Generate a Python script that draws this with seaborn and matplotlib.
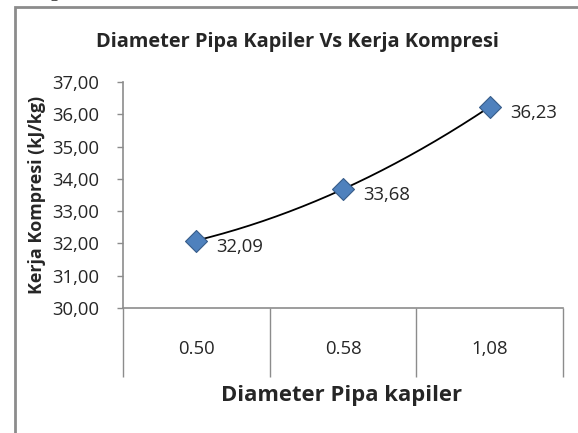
import matplotlib
matplotlib.use("Agg")
import matplotlib.pyplot as plt
import numpy as np
import pandas as pd
import seaborn as sns
from matplotlib.patches import Rectangle

# ---------- data ----------
diameter_labels = ["0.50", "0.58", "1,08"]
kerja_kompresi = [32.09, 33.68, 36.23]
value_labels = ["32,09", "33,68", "36,23"]

df = pd.DataFrame({"pos": np.arange(1, len(diameter_labels) + 1),
                   "kerja": kerja_kompresi})

sns.set_style("white")
plt.rcParams["font.family"] = ["Open Sans", "DejaVu Sans"]

fig = plt.figure(figsize=(5.78, 4.33), dpi=100)
ax = fig.add_axes([123 / 578, 1 - 308 / 433, 440 / 578, 226 / 433])

# 2nd-order trend line through the category positions
coef = np.polyfit(df["pos"], df["kerja"], 2)
xs = np.linspace(df["pos"].min(), df["pos"].max(), 200)
ax.plot(xs, np.polyval(coef, xs), color="black", lw=1.3, zorder=2)

sns.scatterplot(data=df, x="pos", y="kerja", ax=ax, marker="D", s=125,
                color="#4F81BD", edgecolor="#385D8A", linewidth=0.8,
                zorder=3, legend=False)

for x, y, lab in zip(df["pos"], df["kerja"], value_labels):
    ax.annotate(lab, (x, y), xytext=(14.5, -4.5), textcoords="offset points",
                fontsize=13.3, va="center", ha="left")

ax.set_xlim(0.5, 3.5)
ax.set_ylim(30, 37)
ax.set_yticks(np.arange(30, 38, 1))
ax.set_yticklabels([f"{v:.2f}".replace(".", ",") for v in np.arange(30, 38, 1)],
                   fontsize=13.3)

# category boundaries as long ticks, labels on minor ticks at centres
ax.set_xticks([0.5, 1.5, 2.5, 3.5])
ax.set_xticklabels([])
ax.set_xticks(df["pos"], minor=True)
ax.set_xticklabels(diameter_labels, minor=True, fontsize=13.3)
ax.tick_params(axis="x", which="major", bottom=True, length=50, width=1,
               color="#8c8c8c", direction="out")
ax.tick_params(axis="x", which="minor", bottom=True, length=0, pad=23)
ax.tick_params(axis="y", left=True, length=4.3, width=1, color="#8c8c8c",
               direction="out", pad=13)

for side in ("top", "right"):
    ax.spines[side].set_visible(False)
for side in ("left", "bottom"):
    ax.spines[side].set_color("#8c8c8c")
    ax.spines[side].set_linewidth(1.2)

ax.set_xlabel("")
ax.set_ylabel("Kerja Kompresi (kJ/kg)", fontsize=12.9, fontweight="bold",
              labelpad=4)
fig.text(342 / 578, 1 - 396 / 433, "Diameter Pipa kapiler", fontsize=15.8,
         fontweight="bold", ha="center", va="center")
fig.text(297 / 578, 1 - 42 / 433, "Diameter Pipa Kapiler Vs Kerja Kompresi",
         fontsize=14.4, fontweight="bold", ha="center", va="center")

# chart frame and clipped document text
fig.patches.append(Rectangle((15 / 578, -0.1), 1.2, 1 - 7 / 433 + 0.1,
                             transform=fig.transFigure, fill=False,
                             edgecolor="#8c8c8c", lw=2))
fig.text(15 / 578, 1 + 7 / 433, "sebagai berikut :", fontsize=14,
         family=["Liberation Serif"], va="center", ha="left")

fig.savefig("out.png", dpi=100)
